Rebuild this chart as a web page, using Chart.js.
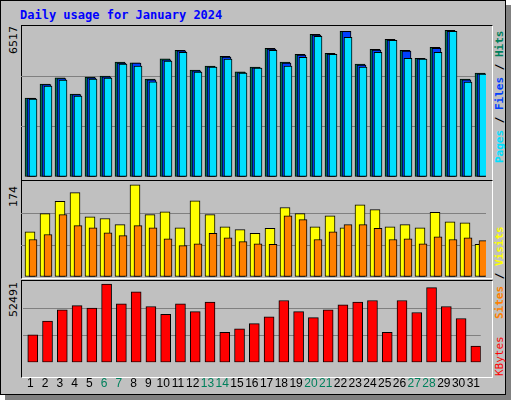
<!DOCTYPE html>
<html><head><meta charset="utf-8">
<script src="https://cdn.jsdelivr.net/npm/chart.js@4"></script>
<style>
body{margin:0;background:#fff;width:512px;height:400px;overflow:hidden;font-family:"DejaVu Sans Mono",monospace}
#frame{position:absolute;left:0;top:0;width:504px;height:393px;border:1px solid #000;background:#c0c0c0;box-shadow:5px 5px 0 #808080}
.panel{position:absolute;left:20px;width:470px;border-top:1px solid #000;border-left:1px solid #000;border-bottom:1px solid #fff;border-right:1px solid #fff}
canvas{position:absolute}
.t{position:absolute;white-space:nowrap;font-size:11px}
.rot{transform-origin:left top;transform:rotate(-90deg)}
</style></head><body>
<div id="frame">
<div class="t" style="left:19px;top:7px;color:#0000ff;font-weight:bold;font-size:12px">Daily usage for January 2024</div>
<div class="panel" style="top:24px;height:154px"></div>
<div class="panel" style="top:179px;height:97px"></div>
<div class="panel" style="top:279px;height:96px"></div>
<div class="t rot" style="left:6px;top:53px;color:#000;font-family:'DejaVu Sans';font-size:11px">6517</div>
<div class="t rot" style="left:6px;top:206px;color:#000;font-family:'DejaVu Sans';font-size:11px">174</div>
<div class="t rot" style="left:6px;top:316px;color:#000;font-family:'DejaVu Sans';font-size:11px">52491</div>
<div class="t rot" style="left:492px;top:162px;font-weight:bold"><span style="color:#00e0ff">Pages</span><span style="color:#000"> / </span><span style="color:#0040ff">Files</span><span style="color:#000"> / </span><span style="color:#00805c">Hits</span></div>
<div class="t rot" style="left:492px;top:318px;font-weight:bold"><span style="color:#ff8000">Sites</span><span style="color:#000"> / </span><span style="color:#ffff00">Visits</span></div>
<div class="t rot" style="left:492px;top:375px;color:#ff0000">KBytes</div>
</div>
<canvas id="c1" style="left:21px;top:26px"></canvas>
<canvas id="c2" style="left:21px;top:181px"></canvas>
<canvas id="c3" style="left:21px;top:281px"></canvas>
<script>
const days=["1","2","3","4","5","6","7","8","9","10","11","12","13","14","15","16","17","18","19","20","21","22","23","24","25","26","27","28","29","30","31"];
const weekend=["6","7","13","14","20","21","27","28"];
const hits=[3410,4009,4280,3580,4310,4353,4955,4925,4224,5097,5472,4611,4783,5213,4538,4740,5557,4955,5299,6160,5342,6289,4869,5514,5945,5472,5127,5600,6332,4224,4482];
const files=[3390,3985,4250,3555,4285,4325,4920,4913,4195,5060,5440,4580,4755,5180,4510,4710,5520,4913,5265,6120,5310,6289,4835,5480,5905,5430,5095,5557,6290,4195,4455];
const pages=[3364,3923,4181,3492,4224,4267,4869,4783,4108,4998,5385,4525,4740,5084,4482,4697,5472,4783,5170,6074,5299,6031,4740,5385,5902,5127,5084,5385,6289,4095,4439];
const visits=[82,115,137,153,109,106,95,167,113,118,89,138,113,91,86,79,88,126,115,91,111,89,131,122,91,95,89,117,100,98,59];
const sites=[68,77,113,93,89,80,75,93,89,69,57,60,79,71,64,60,59,111,104,68,82,95,95,88,68,69,60,73,68,71,66];
const kbytes=[17867,26709,33893,36656,35000,50470,37761,45497,36103,31130,37761,32787,38866,19525,21736,25051,29472,39971,32787,28919,33893,37208,38866,39971,19525,39971,32235,48260,36103,28367,10684];
const maxes=[6517,174,52491];

Chart.defaults.animation=false;
const shift={id:'shift',afterDatasetsUpdate(ch){ch.data.datasets.forEach((d,i)=>{ch.getDatasetMeta(i).data.forEach(e=>{e.x+=d.dx||0;});});}};
function ds(data,color,w,dx,order){return{data,backgroundColor:color,borderColor:'#000',borderWidth:1,borderSkipped:false,barThickness:w,dx,order,grouped:false};}
function mk(id,w,h,datasets,max,showX,padB){
  const cv=document.getElementById(id);cv.width=w;cv.height=h;cv.style.width=w+'px';cv.style.height=h+'px';
  return new Chart(cv,{type:'bar',data:{labels:days,datasets},plugins:[shift],
    options:{responsive:false,devicePixelRatio:1,layout:{padding:{bottom:padB||0}},
      plugins:{legend:{display:false},tooltip:{enabled:false}},
      scales:{
        x:{display:showX,grid:{display:false},border:{display:false},
           ticks:{autoSkip:false,maxRotation:0,padding:6,font:{family:'Liberation Sans',size:12},
             color:c=>weekend.includes(days[c.index])?'#00805c':'#000'}},
        y:{min:0,max,ticks:{display:false,stepSize:max/3},border:{display:false},
           grid:{drawTicks:false,color:c=>(c.index===1||c.index===2)?'#808080':'rgba(0,0,0,0)',lineWidth:1}}}}});
}
mk('c1',465,152,[ds(hits,'#00805c',10,1.5,3),ds(files,'#0040ff',9,3,2),ds(pages,'#00e0ff',8,4.5,1)],maxes[0],false,1);
mk('c2',465,96,[ds(visits,'#ffff00',10,1.5,2),ds(sites,'#ff8000',8,4.5,1)],maxes[1],false,0);
mk('c3',465,116,[ds(kbytes,'#ff0000',10,2.5,1)],maxes[2],true,0);
</script></body></html>
